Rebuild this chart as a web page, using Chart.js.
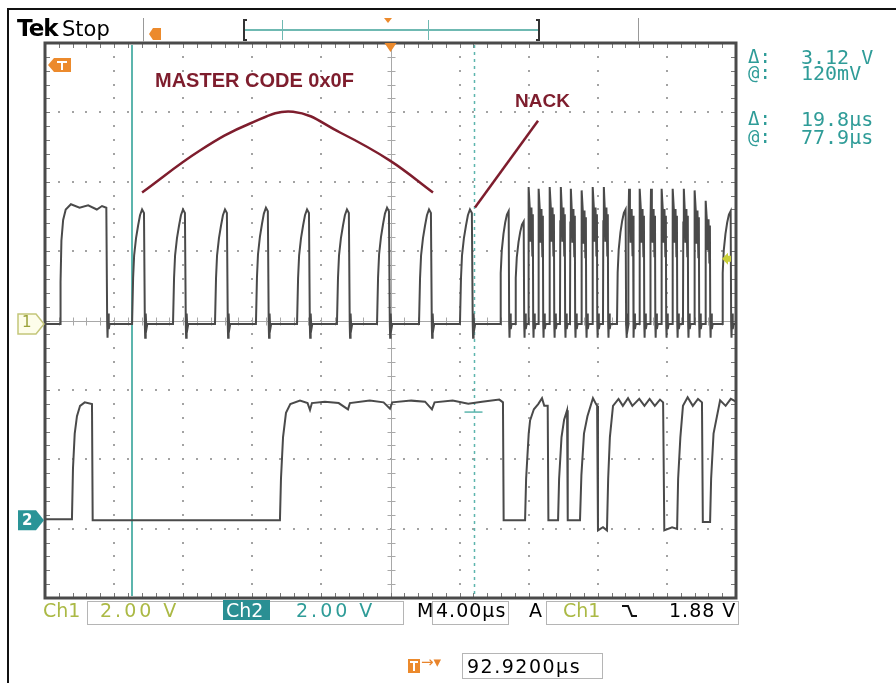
<!DOCTYPE html>
<html>
<head>
<meta charset="utf-8">
<script src="https://cdn.jsdelivr.net/npm/chart.js@4.4.1/dist/chart.umd.min.js"></script>
<style>
  body { margin: 0; background: #fff; }
  #wrap { position: relative; width: 896px; height: 683px; overflow: hidden; font-family: "DejaVu Sans", sans-serif; }
  #scope { position: absolute; left: 0; top: 0; }
  .t { position: absolute; white-space: nowrap; line-height: 1; }
  .mono { font-family: "DejaVu Sans Mono", monospace; }
  .box { position: absolute; border: 1px solid #b5b5b5; box-sizing: border-box; }
  .note { font-family: "Liberation Sans", Arial, sans-serif; font-weight: bold; color: #7e1d2d; }
  .c1 { color: #abb945; }
  .c2 { color: #2f9c98; }
</style>
</head>
<body>
<div id="wrap">
  <canvas id="scope" width="896" height="683"></canvas>

  <div class="t" style="left:17px;top:17px;font-size:23px;font-weight:bold;letter-spacing:-1px">Tek</div>
  <div class="t" style="left:62px;top:19px;font-size:21px">Stop</div>

  <div class="t note" style="left:155px;top:70px;font-size:20px">MASTER CODE 0x0F</div>
  <div class="t note" style="left:515px;top:91px;font-size:19px">NACK</div>

  <div class="t mono c2" style="left:748px;top:47px;font-size:19px">Δ:</div>
  <div class="t mono c2" style="left:801px;top:47px;font-size:20px">3.12 V</div>
  <div class="t mono c2" style="left:748px;top:63px;font-size:19px">@:</div>
  <div class="t mono c2" style="left:801px;top:63px;font-size:20px">120mV</div>
  <div class="t mono c2" style="left:748px;top:109px;font-size:19px">Δ:</div>
  <div class="t mono c2" style="left:801px;top:109px;font-size:20px">19.8µs</div>
  <div class="t mono c2" style="left:748px;top:127px;font-size:19px">@:</div>
  <div class="t mono c2" style="left:801px;top:127px;font-size:20px">77.9µs</div>

  <div class="t" style="left:22px;top:315px;font-size:15px;color:#9aa23a">1</div>
  <div class="t" style="left:22px;top:513px;font-size:15px;color:#fff;font-weight:bold">2</div>

  <div class="box" style="left:87px;top:601px;width:317px;height:24px"></div>
  <div class="t c1" style="left:43px;top:601px;font-size:19px">Ch1</div>
  <div class="t c1" style="left:100px;top:601px;font-size:19px;letter-spacing:3px">2.00 V</div>
  <div class="t" style="left:223px;top:600px;width:47px;height:20px;background:#2a8f93;"></div>
  <div class="t" style="left:226px;top:601px;font-size:19px;color:#fff">Ch2</div>
  <div class="t c2" style="left:296px;top:601px;font-size:19px;letter-spacing:3px">2.00 V</div>
  <div class="t" style="left:417px;top:601px;font-size:19px">M</div>
  <div class="box" style="left:432px;top:601px;width:77px;height:24px"></div>
  <div class="t" style="left:436px;top:601px;font-size:19px;letter-spacing:1px">4.00µs</div>
  <div class="t" style="left:529px;top:601px;font-size:19px">A</div>
  <div class="box" style="left:546px;top:601px;width:193px;height:24px"></div>
  <div class="t c1" style="left:563px;top:601px;font-size:19px">Ch1</div>
  <div class="t" style="left:669px;top:601px;font-size:19px;letter-spacing:1px">1.88 V</div>

  <div class="t" style="left:421px;top:655px;font-size:15px;color:#e8842c">→▾</div>
  <div class="box" style="left:462px;top:653px;width:141px;height:26px"></div>
  <div class="t" style="left:467px;top:657px;font-size:19px;letter-spacing:1.5px">92.9200µs</div>
</div>

<script>
// scope settings: 4.00 µs/div, 2.00 V/div, 10 x 8 divisions
const timeRange = [0, 40];
const voltRange = [-8, 8];
const ch1Ground = -0.1;
const ch2Ground = -5.76;
const triggerLevel = 1.88;
const cursorTimes = [5.04, 24.84];
const cursorLevel = 3.12;

// channel 1 (SCL): first wide pulse, read point by point  [µs, V]
const ch1Wide = [[0, 0], [0.87, 0], [0.9, 1.2], [0.95, 2.4], [1.05, 3.0], [1.2, 3.3], [1.5, 3.45], [2.0, 3.35],
  [2.5, 3.42], [3.0, 3.3], [3.3, 3.4], [3.55, 3.35], [3.6, 0]];
// slow clock pulses of the master code + NACK
const ch1SlowRise = [5.04, 7.41, 9.84, 12.21, 14.59, 16.90, 19.22, 21.65, 24.02];
const ch1SlowPeak = [3.3, 3.3, 3.3, 3.35, 3.3, 3.3, 3.35, 3.3, 3.3];
// fast clock pulses after the NACK
const ch1FastRise = [26.34, 27.21, 27.96, 28.54, 29.18, 29.81, 30.39, 31.03, 31.67, 32.30,
  33.11, 33.76, 34.39, 35.03, 35.66, 36.30, 36.93, 37.57, 38.21, 39.19];
const ch1FastPeak = [3.25, 2.95, 3.95, 3.9, 3.95, 3.95, 3.9, 3.85, 3.95, 3.95,
  3.3, 3.9, 3.9, 3.9, 3.9, 3.9, 3.9, 3.85, 3.55, 3.25];
const ch1FastKind = ['rc', 'rc', 'sq', 'sq', 'sq', 'sq', 'sq', 'sq', 'sq', 'sq',
  'rc', 'sq', 'sq', 'sq', 'sq', 'sq', 'sq', 'sq', 'sq', 'rc'];

// pulse outlines (time offset µs, fraction of peak)
const slowShapeDt = [0, 0.06, 0.12, 0.23, 0.35, 0.46, 0.58, 0.69, 0.74];
const slowShapeFr = [0, 0.4, 0.6, 0.75, 0.86, 0.95, 1, 0.97, 0];
const rcShapeDt = [0, 0.04, 0.1, 0.2, 0.3, 0.4, 0.5, 0.53];
const rcShapeFr = [0, 0.45, 0.65, 0.8, 0.9, 0.97, 1, 0];
const sqShapeDt = [0, 0.02, 0.05, 0.1, 0.14, 0.2, 0.25, 0.28, 0.3];
const sqShapeFr = [0, 0.75, 1, 0.85, 0.6, 0.85, 0.5, 0.8, 0];
// ringing on the baseline after each falling edge (µs after fall, V)
const ringDt = [0.02, 0.05, 0.09, 0.14];
const ringV = [-0.4, 0.3, -0.15, 0];

// channel 2 (SDA) read point by point  [µs, V above ground]
const ch2Trace = [[0, 0.03], [1.56, 0.03], [1.62, 1.5], [1.72, 2.5], [1.85, 3.0], [2.03, 3.3], [2.3, 3.4], [2.72, 3.35], [2.76, 0],
  [13.60, 0], [13.66, 1.2], [13.78, 2.4], [13.95, 3.1], [14.2, 3.35], [14.76, 3.45], [15.2, 3.38],
  [15.34, 3.18], [15.45, 3.38], [16.2, 3.42], [17.0, 3.38], [17.54, 3.2], [17.65, 3.38], [18.8, 3.45], [19.6, 3.4],
  [19.97, 3.22], [20.1, 3.4], [21.2, 3.45], [22.0, 3.42], [22.4, 3.2], [22.55, 3.4], [23.6, 3.45], [24.5, 3.36],
  [25.3, 3.42], [26.3, 3.48], [26.51, 3.4], [26.55, 0], [27.79, 0], [27.85, 1.2],
  [28.0, 2.5], [28.08, 2.88], [28.3, 3.2], [28.55, 3.35], [28.77, 3.52], [28.9, 3.3], [29.1, 3.3], [29.14, 0],
  [29.7, 0], [29.76, 1.2], [29.9, 2.4], [30.05, 2.9], [30.22, 3.17], [30.26, 0], [30.97, 0], [31.05, 1.3],
  [31.2, 2.5], [31.4, 3.0], [31.72, 3.52], [31.9, 3.35], [31.96, 3.3], [32.01, -0.29], [32.3, -0.2], [32.53, -0.29],
  [32.6, 1.2], [32.7, 2.4], [32.88, 3.3], [33.2, 3.5], [33.45, 3.3], [33.75, 3.52], [34.0, 3.3], [34.4, 3.5],
  [34.7, 3.3], [35.0, 3.5], [35.3, 3.3], [35.6, 3.48], [35.78, 3.4], [35.85, -0.29], [36.3, -0.2], [36.59, -0.25],
  [36.65, 1.2], [36.78, 2.4], [36.93, 3.3], [37.2, 3.55], [37.5, 3.3], [37.8, 3.5], [38.03, 3.4], [38.08, -0.05],
  [38.5, -0.05], [38.56, 1.2], [38.7, 2.5], [39.08, 3.46], [39.4, 3.3], [39.7, 3.5], [40, 3.42]];

// hand drawn annotations  [µs, V on screen]
const masterArc = [[5.62, 3.69], [8.97, 4.90], [11.87, 5.68], [14.36, 6.02], [17.08, 5.42], [19.97, 4.61], [22.46, 3.69]];
const nackLine = [[24.89, 3.26], [28.54, 5.76]];

function addPulse(out, t0, peak, dt, fr) {
  for (let i = 0; i < dt.length; i++) out.push({ x: t0 + dt[i], y: ch1Ground + peak * fr[i] });
  const tf = t0 + dt[dt.length - 1];
  for (let i = 0; i < ringDt.length; i++) out.push({ x: tf + ringDt[i], y: ch1Ground + ringV[i] });
}

const ch1Points = ch1Wide.map(p => ({ x: p[0], y: ch1Ground + p[1] }));
for (let i = 0; i < ringDt.length; i++) ch1Points.push({ x: 3.6 + ringDt[i], y: ch1Ground + ringV[i] });
for (let i = 0; i < ch1SlowRise.length; i++) addPulse(ch1Points, ch1SlowRise[i], ch1SlowPeak[i], slowShapeDt, slowShapeFr);
for (let i = 0; i < ch1FastRise.length; i++) {
  if (ch1FastKind[i] == 'rc') addPulse(ch1Points, ch1FastRise[i], ch1FastPeak[i], rcShapeDt, rcShapeFr);
  else addPulse(ch1Points, ch1FastRise[i], ch1FastPeak[i], sqShapeDt, sqShapeFr);
}
ch1Points.push({ x: 40, y: ch1Ground });

const ch2Points = ch2Trace.map(p => ({ x: p[0], y: ch2Ground + p[1] }));

// graticule, cursors and marker flags
const scopeScreen = {
  id: 'scopeScreen',
  beforeDatasetsDraw(chart) {
    const { ctx, chartArea: a, scales: { x, y } } = chart;
    ctx.save();
    // dotted division lines
    ctx.fillStyle = '#a3a3a3';
    for (let d = 1; d < 10; d++) {
      if (d == 5) continue;
      const px = Math.round(x.getPixelForValue(d * 4));
      for (let m = 0; m <= 40; m++) ctx.fillRect(px - 1, Math.round(y.getPixelForValue(-8 + m * 0.4)) - 1, 2, 2);
    }
    for (let d = 1; d < 8; d++) {
      if (d == 4) continue;
      const py = Math.round(y.getPixelForValue(-8 + d * 2));
      for (let m = 0; m <= 50; m++) ctx.fillRect(Math.round(x.getPixelForValue(m * 0.8)) - 1, py - 1, 2, 2);
    }
    // centre cross with minor ticks
    const cx = Math.round(x.getPixelForValue(20)) + 0.5, cy = Math.round(y.getPixelForValue(0)) + 0.5;
    ctx.strokeStyle = '#a8a8a8';
    ctx.lineWidth = 1;
    ctx.beginPath();
    ctx.moveTo(cx, a.top); ctx.lineTo(cx, a.bottom);
    ctx.moveTo(a.left, cy); ctx.lineTo(a.right, cy);
    for (let m = 0; m <= 40; m++) {
      const py = Math.round(y.getPixelForValue(-8 + m * 0.4)) + 0.5;
      ctx.moveTo(cx - 4, py); ctx.lineTo(cx + 4, py);
    }
    for (let m = 0; m <= 50; m++) {
      const px = Math.round(x.getPixelForValue(m * 0.8)) + 0.5;
      ctx.moveTo(px, cy - 4); ctx.lineTo(px, cy + 4);
    }
    ctx.stroke();
    // border ticks
    ctx.strokeStyle = '#777';
    ctx.beginPath();
    for (let m = 0; m <= 50; m++) {
      const px = Math.round(x.getPixelForValue(m * 0.8)) + 0.5;
      ctx.moveTo(px, a.top); ctx.lineTo(px, a.top + 5);
      ctx.moveTo(px, a.bottom); ctx.lineTo(px, a.bottom - 5);
    }
    for (let m = 0; m <= 40; m++) {
      const py = Math.round(y.getPixelForValue(-8 + m * 0.4)) + 0.5;
      ctx.moveTo(a.left, py); ctx.lineTo(a.left + 5, py);
      ctx.moveTo(a.right, py); ctx.lineTo(a.right - 5, py);
    }
    ctx.stroke();
    ctx.strokeStyle = '#4a4a4a';
    ctx.lineWidth = 3;
    ctx.strokeRect(a.left, a.top, a.right - a.left, a.bottom - a.top);
    // cursors
    ctx.strokeStyle = '#5cb5ad';
    ctx.lineWidth = 2;
    const c1 = Math.round(x.getPixelForValue(cursorTimes[0]));
    ctx.beginPath(); ctx.moveTo(c1, a.top + 2); ctx.lineTo(c1, a.bottom - 2); ctx.stroke();
    const c2 = Math.round(x.getPixelForValue(cursorTimes[1])) + 0.5;
    ctx.lineWidth = 1.5;
    ctx.setLineDash([3, 4]);
    ctx.beginPath(); ctx.moveTo(c2, a.top + 2); ctx.lineTo(c2, a.bottom - 2); ctx.stroke();
    ctx.setLineDash([]);
    const cl = y.getPixelForValue(ch2Ground + cursorLevel);
    ctx.beginPath(); ctx.moveTo(c2 - 10, cl); ctx.lineTo(c2 + 8, cl); ctx.stroke();
    ctx.restore();
  },
  afterDraw(chart) {
    const { ctx, chartArea: a, scales: { x, y } } = chart;
    ctx.save();
    // outer frame
    ctx.fillStyle = '#111';
    ctx.fillRect(7, 8, 889, 2);
    ctx.fillRect(7, 8, 2, 675);
    // trigger position flag on top of graticule
    const tx = x.getPixelForValue(20);
    ctx.fillStyle = '#ec8a2c';
    ctx.beginPath(); ctx.moveTo(tx - 6, a.top); ctx.lineTo(tx + 6, a.top); ctx.lineTo(tx, a.top + 9); ctx.fill();
    // trigger flag near top left corner
    ctx.beginPath(); ctx.moveTo(a.left + 3, 65); ctx.lineTo(a.left + 9, 58); ctx.lineTo(a.left + 26, 58);
    ctx.lineTo(a.left + 26, 72); ctx.lineTo(a.left + 9, 72); ctx.closePath(); ctx.fill();
    ctx.fillStyle = '#fff';
    ctx.fillRect(a.left + 12, 61, 10, 2); ctx.fillRect(a.left + 16, 61, 2, 9);
    // trigger level arrow at the right edge
    const ty = y.getPixelForValue(ch1Ground + triggerLevel);
    ctx.fillStyle = '#c9cf3a';
    ctx.beginPath(); ctx.moveTo(a.right - 14, ty); ctx.lineTo(a.right - 8, ty - 6); ctx.lineTo(a.right - 8, ty + 6); ctx.fill();
    ctx.fillRect(a.right - 9, ty - 3, 4, 6);
    // channel ground flags
    const g1 = y.getPixelForValue(ch1Ground), g2 = y.getPixelForValue(ch2Ground);
    ctx.beginPath(); ctx.moveTo(18, g1 - 10); ctx.lineTo(36, g1 - 10); ctx.lineTo(44, g1); ctx.lineTo(36, g1 + 10); ctx.lineTo(18, g1 + 10); ctx.closePath();
    ctx.fillStyle = '#fdfdea'; ctx.fill(); ctx.strokeStyle = '#c4c67a'; ctx.lineWidth = 1.5; ctx.stroke();
    ctx.beginPath(); ctx.moveTo(18, g2 - 10); ctx.lineTo(36, g2 - 10); ctx.lineTo(44, g2); ctx.lineTo(36, g2 + 10); ctx.lineTo(18, g2 + 10); ctx.closePath();
    ctx.fillStyle = '#2a9497'; ctx.fill();
    // record view bar
    ctx.fillStyle = '#999';
    ctx.fillRect(143, 18, 1, 24);
    ctx.fillRect(638, 18, 1, 24);
    ctx.fillStyle = '#ec8a2c';
    ctx.beginPath(); ctx.moveTo(149, 34); ctx.lineTo(153, 28); ctx.lineTo(161, 28); ctx.lineTo(161, 40); ctx.lineTo(153, 40); ctx.closePath(); ctx.fill();
    ctx.beginPath(); ctx.moveTo(384, 18); ctx.lineTo(392, 18); ctx.lineTo(388, 23); ctx.fill();
    ctx.fillStyle = '#6fb9b2';
    ctx.fillRect(244, 29, 295, 2);
    ctx.fillRect(282, 20, 1, 20);
    ctx.fillRect(428, 20, 1, 20);
    ctx.fillStyle = '#333';
    ctx.fillRect(243, 19, 2, 22); ctx.fillRect(243, 19, 4, 2); ctx.fillRect(243, 39, 4, 2);
    ctx.fillRect(538, 19, 2, 22); ctx.fillRect(536, 19, 4, 2); ctx.fillRect(536, 39, 4, 2);
    // falling edge icon in trigger readout
    ctx.strokeStyle = '#111'; ctx.lineWidth = 2;
    ctx.beginPath(); ctx.moveTo(622, 606); ctx.lineTo(628, 606); ctx.lineTo(632, 616); ctx.lineTo(637, 616); ctx.stroke();
    // trigger offset icon, second row
    ctx.fillStyle = '#ec8a2c';
    ctx.fillRect(408, 659, 12, 14);
    ctx.fillStyle = '#fff';
    ctx.fillRect(410, 661, 8, 2); ctx.fillRect(413, 661, 2, 10);
    ctx.restore();
  }
};

new Chart(document.getElementById('scope'), {
  type: 'scatter',
  data: {
    datasets: [
      { label: 'Ch1', data: ch1Points, showLine: true, borderColor: '#4a4a4a', borderWidth: 2, pointRadius: 0 },
      { label: 'Ch2', data: ch2Points, showLine: true, borderColor: '#4a4a4a', borderWidth: 2, pointRadius: 0 },
      { label: 'MASTER CODE', data: masterArc.map(p => ({ x: p[0], y: p[1] })), showLine: true, borderColor: '#7e1d2d',
        borderWidth: 2.5, pointRadius: 0, tension: 0.4 },
      { label: 'NACK', data: nackLine.map(p => ({ x: p[0], y: p[1] })), showLine: true, borderColor: '#7e1d2d',
        borderWidth: 2.5, pointRadius: 0 }
    ]
  },
  options: {
    responsive: false,
    animation: false,
    layout: { padding: { left: 45, right: 160, top: 43, bottom: 85 } },
    plugins: { legend: { display: false }, tooltip: { enabled: false } },
    scales: {
      x: { type: 'linear', min: timeRange[0], max: timeRange[1], display: false },
      y: { min: voltRange[0], max: voltRange[1], display: false }
    }
  },
  plugins: [scopeScreen]
});
</script>
</body>
</html>
